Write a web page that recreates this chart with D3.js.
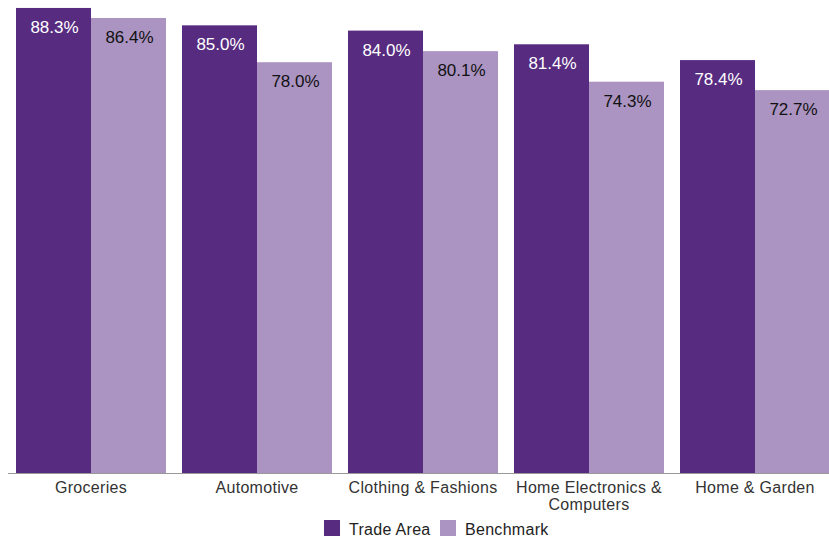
<!DOCTYPE html>
<html>
<head>
<meta charset="utf-8">
<script src="https://cdn.jsdelivr.net/npm/d3@7"></script>
<style>
  html, body { margin: 0; padding: 0; background: #fff; }
  svg { display: block; font-family: "Liberation Sans", Arial, sans-serif; }
</style>
</head>
<body>
<svg id="chart" width="829" height="540"></svg>
<script>
// Share of spending captured, by retail category
const categories = ["Groceries", "Automotive", "Clothing & Fashions", "Home Electronics & Computers", "Home & Garden"];
const categoryLines = [["Groceries"], ["Automotive"], ["Clothing & Fashions"], ["Home Electronics &", "Computers"], ["Home & Garden"]];
const seriesNames = ["Trade Area", "Benchmark"];
const tradeArea = [88.3, 85.0, 84.0, 81.4, 78.4];
const benchmark = [86.4, 78.0, 80.1, 74.3, 72.7];
const seriesColors = ["#572b80", "#ab94c2"];
const labelColors = ["#ffffff", "#111111"];

const svg = d3.select("#chart");
const baseY = 473;

const x0 = d3.scaleBand()
  .domain(categories)
  .range([8, 838])
  .paddingInner(16 / 166)
  .paddingOuter(8 / 166);

const x1 = d3.scaleBand()
  .domain(seriesNames)
  .range([0, x0.bandwidth()])
  .padding(0);

const y = d3.scaleLinear().domain([0, 90]).range([baseY, -1]);

const rows = categories.map((c, i) => ({
  category: c,
  values: [
    { series: seriesNames[0], value: tradeArea[i], idx: 0 },
    { series: seriesNames[1], value: benchmark[i], idx: 1 }
  ]
}));

const groups = svg.append("g").selectAll("g")
  .data(rows)
  .join("g")
  .attr("transform", d => `translate(${x0(d.category)},0)`);

groups.selectAll("rect")
  .data(d => d.values)
  .join("rect")
  .attr("x", d => x1(d.series))
  .attr("y", d => y(d.value))
  .attr("width", x1.bandwidth())
  .attr("height", d => baseY - y(d.value))
  .attr("fill", d => seriesColors[d.idx]);

groups.selectAll("text.val")
  .data(d => d.values)
  .join("text")
  .attr("class", "val")
  .attr("x", d => x1(d.series) + x1.bandwidth() / 2 + 1)
  .attr("y", d => y(d.value) + 25)
  .attr("text-anchor", "middle")
  .attr("font-size", 17)
  .attr("fill", d => labelColors[d.idx])
  .text(d => d.value.toFixed(1) + "%");

// baseline
svg.append("line")
  .attr("x1", 8).attr("x2", 829)
  .attr("y1", baseY + 0.5).attr("y2", baseY + 0.5)
  .attr("stroke", "#999999")
  .attr("stroke-width", 1.2);

// category labels
const catLabels = svg.append("g").selectAll("text")
  .data(categories)
  .join("text")
  .attr("x", d => x0(d) + x0.bandwidth() / 2)
  .attr("y", 493)
  .attr("text-anchor", "middle")
  .attr("font-size", 16)
  .attr("letter-spacing", 0.3)
  .attr("fill", "#333333");

catLabels.each(function(d, i) {
  const t = d3.select(this);
  categoryLines[i].forEach((line, j) => {
    t.append("tspan")
      .attr("x", x0(d) + x0.bandwidth() / 2)
      .attr("dy", j === 0 ? 0 : 17)
      .text(line);
  });
});

// legend
const legendItems = [
  { name: seriesNames[0], color: seriesColors[0], x: 324 },
  { name: seriesNames[1], color: seriesColors[1], x: 440 }
];
const legend = svg.append("g").selectAll("g")
  .data(legendItems)
  .join("g")
  .attr("transform", d => `translate(${d.x},520)`);
legend.append("rect")
  .attr("width", 16).attr("height", 16)
  .attr("fill", d => d.color);
legend.append("text")
  .attr("x", 25).attr("y", 15)
  .attr("font-size", 16)
  .attr("letter-spacing", 0.3)
  .attr("fill", "#222222")
  .text(d => d.name);
</script>
</body>
</html>
